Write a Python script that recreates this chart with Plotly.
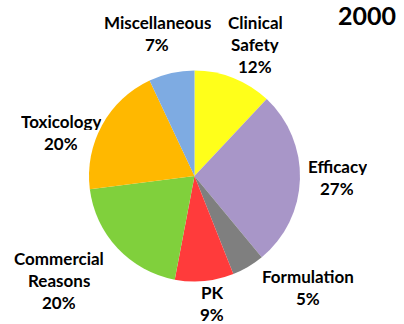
import plotly.graph_objects as go

categories = ["Clinical Safety", "Efficacy", "Formulation", "PK",
              "Commercial Reasons", "Toxicology", "Miscellaneous"]
values = [12, 27, 5, 9, 20, 20, 7]
colors = ["#FFFF1A", "#A896C8", "#7F7F7F", "#FF3B3B",
          "#80D03C", "#FFB800", "#7EABE2"]
year_label = "2000"

# label line breaks and layout positions (pixel centres) for the outside labels
label_lines = {
    "Clinical Safety": ["Clinical", "Safety"],
    "Efficacy": ["Efficacy"],
    "Formulation": ["Formulation"],
    "PK": ["PK"],
    "Commercial Reasons": ["Commercial", "Reasons"],
    "Toxicology": ["Toxicology"],
    "Miscellaneous": ["Miscellaneous"],
}
label_pos = {
    "Clinical Safety": (255, 22),
    "Efficacy": (337, 166),
    "Formulation": (308, 276),
    "PK": (212, 292),
    "Commercial Reasons": (59, 258),
    "Toxicology": (61, 121),
    "Miscellaneous": (157, 22),
}

W, H = 404, 324
CX, CY, R = 194.5, 176, 105.5
LINE = 22
FONT = "Lato, 'Open Sans', sans-serif"

fig = go.Figure(go.Pie(
    labels=categories, values=values, sort=False, direction="clockwise",
    rotation=0, textinfo="none", hoverinfo="label+percent",
    marker=dict(colors=colors, line=dict(width=0)),
    domain=dict(x=[(CX - R) / W, (CX + R) / W], y=[1 - (CY + R) / H, 1 - (CY - R) / H]),
    showlegend=False,
))

annotations = []
for cat, v in zip(categories, values):
    lines = label_lines[cat] + [f"{v}%"]
    x0, y0 = label_pos[cat]
    for i, t in enumerate(lines):
        annotations.append(dict(
            text=f"<b>{t}</b>", x=x0 / W, y=1 - (y0 + i * LINE) / H,
            xref="paper", yref="paper", xanchor="center", yanchor="middle",
            showarrow=False, font=dict(family=FONT, size=17, color="#000000"),
            height=18, borderpad=0,
        ))
annotations.append(dict(
    text=f"<b>{year_label}</b>", x=367 / W, y=1 - 15 / H, xref="paper", yref="paper",
    xanchor="center", yanchor="middle", showarrow=False,
    font=dict(family=FONT, size=25, color="#000000"),
))

fig.update_layout(
    width=W, height=H, margin=dict(l=0, r=0, t=0, b=0),
    paper_bgcolor="white", plot_bgcolor="white",
    annotations=annotations,
)
fig.write_html("out.html")
